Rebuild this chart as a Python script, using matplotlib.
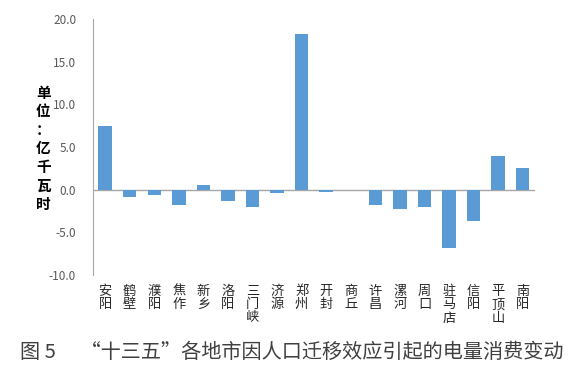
import numpy as np
import matplotlib
matplotlib.use('Agg')
import matplotlib.pyplot as plt

plt.rcParams['font.family'] = ['Noto Sans CJK SC', 'DejaVu Sans']

cities = ['安阳', '鹤壁', '濮阳', '焦作', '新乡', '洛阳', '三门峡', '济源', '郑州',
          '开封', '商丘', '许昌', '漯河', '周口', '驻马店', '信阳', '平顶山', '南阳']
values = [7.4, -0.9, -0.65, -1.75, 0.55, -1.3, -2.05, -0.35, 18.2,
          -0.3, -0.05, -1.85, -2.3, -2.0, -6.9, -3.7, 3.9, 2.5]
yticks = [-10, -5, 0, 5, 10, 15, 20]

x = np.arange(len(cities))

fig = plt.figure(figsize=(5.84, 3.72), dpi=100)
ax = fig.add_axes([0.159, 0.261, 0.757, 0.688])
ax.bar(x, values, width=0.55, color='#5B9BD5', zorder=2)
ax.axhline(0, color='#A6A6A6', linewidth=1.0, zorder=1)

ax.set_xlim(-0.5, len(cities) - 0.5)
ax.set_ylim(-10, 20)
ax.set_yticks(yticks)
ax.set_yticklabels(['%.1f' % v for v in yticks], color='#595959', fontsize=8.5)
ax.set_xticks(x)
ax.set_xticklabels(['\n'.join(c) for c in cities], fontsize=9.5, linespacing=1.05,
                   color='#262626', va='top')
ax.tick_params(axis='both', length=0)
ax.tick_params(axis='y', pad=12)
ax.tick_params(axis='x', pad=7)

for s in ['top', 'right', 'bottom']:
    ax.spines[s].set_visible(False)
ax.spines['left'].set_color('#A6A6A6')

# vertical unit label, one character per line
fig.text(0.074, 0.601, '\n'.join('单位：亿千瓦时'), ha='center', va='center',
         fontsize=10.5, fontweight='bold', linespacing=1.2)

fig.text(0.5, 0.052, '图 5　 “十三五”各地市因人口迁移效应引起的电量消费变动',
         ha='center', va='center', fontsize=14.5, color='#404040')

fig.savefig('out.png', dpi=100)
